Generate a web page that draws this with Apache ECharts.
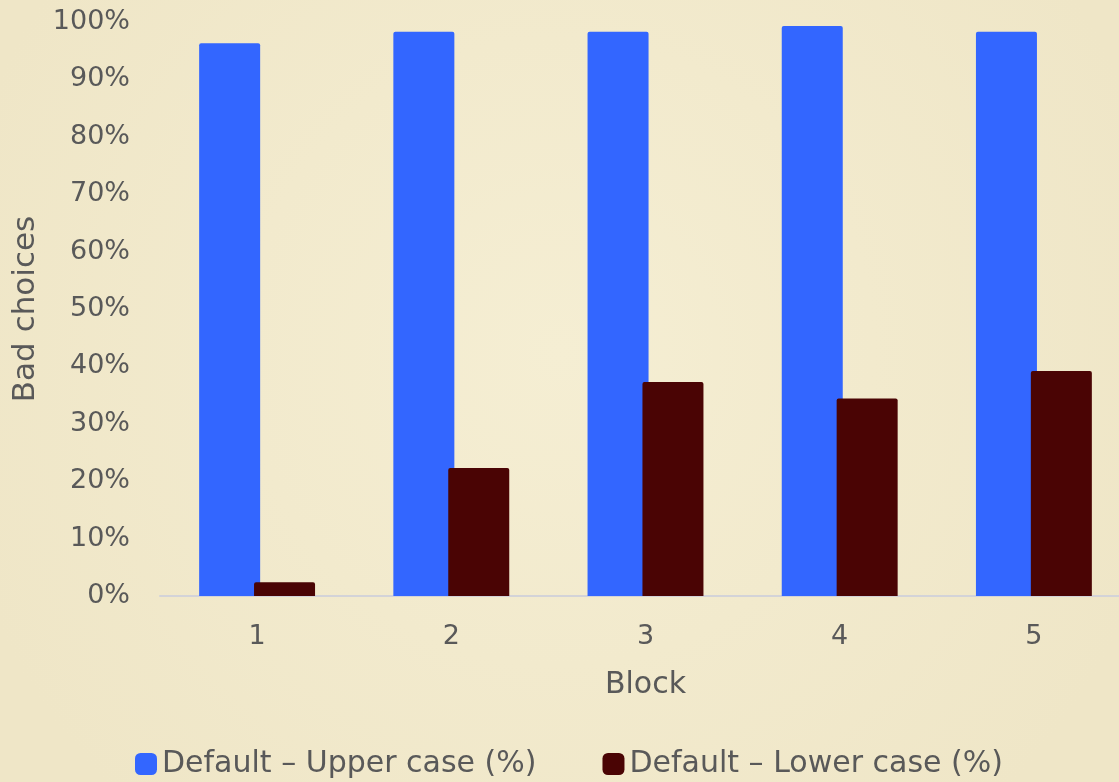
<!DOCTYPE html>
<html>
<head>
<meta charset="utf-8">
<title>Bad choices by block</title>
<script src="https://cdn.jsdelivr.net/npm/echarts@6/dist/echarts.min.js"></script>
<style>
  html, body { margin: 0; padding: 0; background: #f2eacd; }
  #main { width: 1119px; height: 782px; }
</style>
</head>
<body>
<div id="main"></div>
<script>
// 数据
var blocks = ['1', '2', '3', '4', '5'];
var upperCase = [96.3, 98.3, 98.3, 99.3, 98.3];
var lowerCase = [2.4, 22.3, 37.3, 34.4, 39.2];
var seriesNames = ['Default \u2013 Upper case (%)', 'Default \u2013 Lower case (%)'];

var textColor = '#595959';
var fontFamily = '"DejaVu Sans", sans-serif';

var chart = echarts.init(document.getElementById('main'));

var option = {
    backgroundColor: {
        type: 'radial', x: 0.5, y: 0.45, r: 0.8,
        colorStops: [
            { offset: 0, color: '#f5eed3' },
            { offset: 1, color: '#efe6c7' }
        ]
    },
    textStyle: { fontFamily: fontFamily, color: textColor },
    // 右侧超出画布, 和原图一样被裁掉
    grid: { left: 160, width: 971, top: 22, bottom: 186, outerBoundsMode: 'none', containLabel: false },
    legend: {
        left: 130,
        top: 744,
        itemWidth: 22,
        itemHeight: 22,
        itemGap: 66,
        icon: 'roundRect',
        textStyle: { fontSize: 30, color: textColor, fontFamily: fontFamily },
        data: seriesNames
    },
    xAxis: {
        type: 'category',
        data: blocks,
        name: 'Block',
        nameLocation: 'middle',
        nameGap: 89,
        nameTextStyle: { fontSize: 30, color: textColor, verticalAlign: 'middle' },
        axisLine: { lineStyle: { color: '#d3d3d8', width: 2 } },
        axisTick: { show: false },
        axisLabel: { fontSize: 27, color: textColor, margin: 27 }
    },
    yAxis: {
        type: 'value',
        min: 0,
        max: 100,
        interval: 10,
        name: 'Bad choices',
        nameLocation: 'middle',
        nameGap: 132,
        nameTextStyle: { fontSize: 31, color: textColor, verticalAlign: 'middle' },
        axisLine: { show: false },
        axisTick: { show: false },
        splitLine: { show: false },
        axisLabel: { fontSize: 27, color: textColor, margin: 30, formatter: '{value}%' }
    },
    series: [
        {
            name: seriesNames[0],
            type: 'bar',
            data: upperCase,
            barWidth: 61,
            barGap: '-10%',
            itemStyle: { color: '#3366ff', borderRadius: [2, 2, 0, 0] }
        },
        {
            name: seriesNames[1],
            type: 'bar',
            data: lowerCase,
            barWidth: 61,
            itemStyle: { color: '#4a0404', borderRadius: [2, 2, 0, 0] }
        }
    ]
};

chart.setOption(option);
</script>
</body>
</html>
